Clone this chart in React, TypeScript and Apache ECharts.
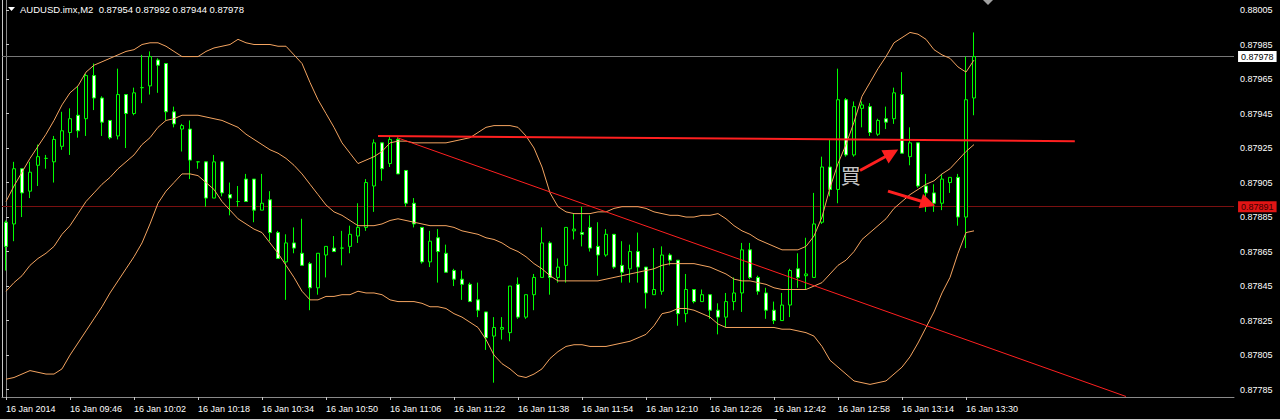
import React, { useEffect, useRef } from "react";
import * as echarts from "echarts";

// ---- chart meta ----
const SYMBOL = "AUDUSD.imx,M2";
const DAY_LABEL = "16 Jan";
const FIRST_LABEL = "16 Jan 2014";
const START_MINUTES = 9 * 60 + 30; // first bar 09:30
const BAR_MINUTES = 2;
const TOTAL_SLOTS = 154; // bars + empty shift area
const LABEL_EVERY = 8;

// ---- axis range and ticks ----
const Y_MIN = 0.877807;
const Y_MAX = 0.880108;
const priceTicks = [
  0.87785, 0.87805, 0.87825, 0.87845, 0.87865, 0.87885, 0.87905, 0.87925, 0.87945, 0.87965, 0.87985, 0.88005,
];

// ---- OHLC ----
const opens = [
  0.87882, 0.87881, 0.87913, 0.879, 0.87915, 0.87919, 0.87917, 0.87926, 0.87934, 0.87944,
  0.87942, 0.87967, 0.87954, 0.87941, 0.87932, 0.87956, 0.87945, 0.8796, 0.87961, 0.87976,
  0.87974, 0.87946, 0.87936, 0.87936, 0.87917, 0.87917, 0.87896, 0.87917, 0.87898, 0.87894,
  0.87907, 0.87907, 0.87889, 0.87895, 0.87876, 0.87859, 0.8787, 0.87864, 0.87858, 0.87844,
  0.87863, 0.87867, 0.87867, 0.87868, 0.87874, 0.87879, 0.87903, 0.87928, 0.87916, 0.8793,
  0.87912, 0.87893, 0.87879, 0.87859, 0.87873, 0.87864, 0.87854, 0.87849, 0.87846, 0.87837,
  0.8783, 0.87816, 0.8782, 0.87818, 0.87846, 0.87827, 0.8784, 0.8785, 0.8787, 0.8785,
  0.87857, 0.87877, 0.87876, 0.87879, 0.87868, 0.87863, 0.87875, 0.87857, 0.87855, 0.87865,
  0.87856, 0.8784, 0.87842, 0.87863, 0.8786, 0.87829, 0.87843, 0.87836, 0.8784, 0.87831,
  0.87827, 0.87836, 0.87841, 0.87866, 0.8785, 0.87841, 0.87831, 0.87825, 0.87834, 0.87855,
  0.87851, 0.8785, 0.87882, 0.87914, 0.87901, 0.87953, 0.87921, 0.87948, 0.87949, 0.87933,
  0.87942, 0.87942, 0.87956, 0.8792, 0.87928, 0.87903, 0.87899, 0.87893, 0.87905, 0.87908,
  0.87885, 0.87954,
];
const highs = [
  0.87883, 0.87917, 0.87913, 0.87917, 0.87927, 0.87921, 0.87932, 0.87946, 0.87948, 0.87961,
  0.87968, 0.87974, 0.87955, 0.87941, 0.87971, 0.87956, 0.8796, 0.87979, 0.87981, 0.87977,
  0.87974, 0.87949, 0.87939, 0.87941, 0.87917, 0.87917, 0.87921, 0.87917, 0.87905, 0.87903,
  0.8791, 0.87907, 0.8791, 0.879, 0.87877, 0.87875, 0.87879, 0.87884, 0.87859, 0.87864,
  0.87868, 0.87874, 0.87877, 0.8788, 0.87893, 0.87907, 0.8793, 0.87928, 0.87932, 0.87931,
  0.87912, 0.87896, 0.87879, 0.87877, 0.87878, 0.87869, 0.87855, 0.87854, 0.87847, 0.87847,
  0.8783, 0.87827, 0.87827, 0.87845, 0.8785, 0.8784, 0.87852, 0.87879, 0.87871, 0.87861,
  0.87879, 0.87887, 0.87891, 0.87886, 0.87882, 0.87878, 0.87875, 0.87871, 0.87869, 0.87876,
  0.87856, 0.87867, 0.87868, 0.87864, 0.8786, 0.87852, 0.87843, 0.87843, 0.8784, 0.87835,
  0.87841, 0.8785, 0.8787, 0.8787, 0.87851, 0.87844, 0.87836, 0.87841, 0.87855, 0.87864,
  0.87873, 0.87899, 0.8792, 0.8793, 0.87971, 0.87954, 0.87952, 0.87952, 0.87951, 0.87942,
  0.87949, 0.8796, 0.87969, 0.87937, 0.87928, 0.8791, 0.87904, 0.8791, 0.87908, 0.8791,
  0.87978, 0.87992,
];
const lows = [
  0.87854, 0.87871, 0.87885, 0.87896, 0.87903, 0.87913, 0.87905, 0.87924, 0.87921, 0.87931,
  0.87932, 0.87947, 0.87932, 0.8793, 0.8793, 0.87925, 0.87944, 0.87951, 0.87956, 0.87957,
  0.87941, 0.87937, 0.87923, 0.87907, 0.87913, 0.87891, 0.87896, 0.87897, 0.87886, 0.87891,
  0.87894, 0.87882, 0.87889, 0.87871, 0.87861, 0.87837, 0.87864, 0.87857, 0.87831, 0.8784,
  0.8785, 0.87865, 0.87857, 0.87864, 0.8787, 0.87877, 0.87888, 0.87906, 0.87914, 0.8791,
  0.87891, 0.87879, 0.87858, 0.87856, 0.87847, 0.87853, 0.87845, 0.87837, 0.87836, 0.87827,
  0.87808, 0.87789, 0.87814, 0.87813, 0.87826, 0.87826, 0.87831, 0.8785, 0.8784, 0.87847,
  0.87847, 0.87872, 0.87868, 0.87865, 0.87851, 0.87862, 0.87855, 0.87847, 0.87847, 0.87847,
  0.87832, 0.8784, 0.8784, 0.87857, 0.87822, 0.87824, 0.87835, 0.87836, 0.87826, 0.87817,
  0.87821, 0.87831, 0.8783, 0.87849, 0.8784, 0.87826, 0.87823, 0.87825, 0.87827, 0.87844,
  0.87843, 0.8785, 0.87881, 0.87897, 0.87893, 0.8792, 0.8792, 0.87937, 0.87932, 0.87932,
  0.87936, 0.87939, 0.87922, 0.87915, 0.87902, 0.87888, 0.87888, 0.87889, 0.87899, 0.8788,
  0.87867, 0.87944,
];
const closes = [
  0.87868, 0.87913, 0.87899, 0.87911, 0.8792, 0.87919, 0.8793, 0.87935, 0.87942, 0.87935,
  0.87967, 0.87954, 0.8794, 0.87931, 0.87956, 0.87945, 0.87957, 0.8796, 0.87978, 0.87973,
  0.87946, 0.87939, 0.87938, 0.87918, 0.87917, 0.87896, 0.87917, 0.87899, 0.87896, 0.87894,
  0.87894, 0.87889, 0.87893, 0.87876, 0.87861, 0.8787, 0.87867, 0.87857, 0.87844, 0.87864,
  0.87868, 0.87865, 0.87867, 0.87875, 0.87879, 0.87905, 0.87928, 0.87913, 0.8793, 0.8791,
  0.87893, 0.87881, 0.87859, 0.87871, 0.87865, 0.87853, 0.87849, 0.87846, 0.87836, 0.87831,
  0.87815, 0.87821, 0.87821, 0.87845, 0.87827, 0.8784, 0.8785, 0.8787, 0.8785, 0.87856,
  0.87879, 0.87878, 0.87875, 0.87867, 0.87863, 0.87875, 0.87856, 0.87853, 0.87865, 0.87856,
  0.87841, 0.87843, 0.87863, 0.8786, 0.87829, 0.87843, 0.87836, 0.8784, 0.87831, 0.87827,
  0.87836, 0.87841, 0.87866, 0.8785, 0.87842, 0.87831, 0.87825, 0.87834, 0.87854, 0.8785,
  0.87852, 0.87881, 0.87914, 0.87901, 0.87953, 0.87921, 0.87949, 0.8795, 0.87934, 0.87941,
  0.8794, 0.87957, 0.87922, 0.87928, 0.87903, 0.87899, 0.87893, 0.87907, 0.87908, 0.87885,
  0.87953, 0.87978,
];

// ---- Bollinger bands ----
const bandUpper = [
  0.87894, 0.87903, 0.87911, 0.87919, 0.87926, 0.87933, 0.87941, 0.8795, 0.87957, 0.87961,
  0.87969, 0.87973, 0.87975, 0.87977, 0.87979, 0.87981, 0.87982, 0.87985, 0.87986, 0.87986,
  0.87984, 0.87981, 0.87978, 0.87978, 0.87978, 0.87981, 0.87983, 0.87984, 0.87985, 0.87988,
  0.87986, 0.87985, 0.87985, 0.87985, 0.87984, 0.87984, 0.87979, 0.87974, 0.87963, 0.87953,
  0.87945, 0.87937, 0.87928, 0.87922, 0.87916, 0.87918, 0.8792, 0.87923, 0.87928, 0.87929,
  0.87929, 0.87928, 0.87928, 0.87928, 0.87928, 0.87928, 0.87929, 0.8793, 0.87931, 0.87934,
  0.87937, 0.87938, 0.87938, 0.87938, 0.87937, 0.87932, 0.87925, 0.87914, 0.87899, 0.87891,
  0.87888, 0.87887, 0.87887, 0.87887, 0.87888, 0.87888, 0.8789, 0.87891, 0.87891, 0.87891,
  0.8789, 0.87888, 0.87887, 0.87886, 0.87886, 0.87885, 0.87885, 0.87886, 0.87886, 0.87887,
  0.87884, 0.8788, 0.87877, 0.87875, 0.87872, 0.8787, 0.87868, 0.87866, 0.87866, 0.87866,
  0.87868, 0.87874, 0.87885, 0.87902, 0.87916, 0.87927, 0.8794, 0.87955, 0.87963, 0.87971,
  0.87978, 0.87986, 0.87989, 0.87992, 0.87991, 0.87988, 0.87982, 0.87979, 0.87977, 0.87972,
  0.87969, 0.87976,
];
const bandMiddle = [
  0.87842, 0.87847, 0.87851, 0.87857, 0.87861, 0.87864, 0.87868, 0.87875, 0.8788, 0.87887,
  0.87894, 0.87899, 0.87904, 0.87908, 0.87913, 0.87917, 0.87921, 0.87927, 0.87931, 0.87937,
  0.87941, 0.87942, 0.87944, 0.87944, 0.87944, 0.87943, 0.87942, 0.87941, 0.87939, 0.87937,
  0.87933, 0.8793, 0.87927, 0.87924, 0.87922, 0.87919, 0.87915, 0.8791, 0.87904, 0.87898,
  0.87892, 0.87888, 0.87886, 0.87883, 0.8788, 0.8788, 0.8788, 0.87881, 0.87883, 0.87884,
  0.87883, 0.87882, 0.87881, 0.8788, 0.8788, 0.8788, 0.87879, 0.87877, 0.87876, 0.87875,
  0.87873, 0.87872, 0.8787, 0.87867, 0.87865, 0.87862, 0.87858, 0.87855, 0.87851, 0.87848,
  0.87848, 0.87848, 0.87848, 0.87848, 0.87848, 0.87849, 0.8785, 0.87851, 0.87852, 0.87853,
  0.87854, 0.87855, 0.87857, 0.87858, 0.87858, 0.87858, 0.87858, 0.87857, 0.87856, 0.87854,
  0.87852, 0.87849, 0.87848, 0.87848, 0.87847, 0.87846, 0.87844, 0.87843, 0.87843, 0.87843,
  0.87843, 0.87845, 0.87847, 0.87852, 0.87857, 0.8786, 0.87865, 0.87872, 0.87876, 0.8788,
  0.87884, 0.8789, 0.87894, 0.87898, 0.87901, 0.87904, 0.87906, 0.8791, 0.87913, 0.87918,
  0.87923, 0.87927,
];
const bandLower = [
  0.87791, 0.87792, 0.87794, 0.87796, 0.87795, 0.87794, 0.87794, 0.87797, 0.87805, 0.87812,
  0.87819, 0.87826, 0.87833, 0.87841, 0.87848, 0.87855, 0.87862, 0.8787, 0.87881, 0.87893,
  0.879, 0.87905, 0.8791, 0.8791, 0.87909, 0.87905, 0.87901, 0.87894, 0.87889, 0.87884,
  0.87881, 0.87878, 0.87876, 0.8787, 0.87864, 0.87857, 0.8785, 0.87842, 0.87837, 0.87837,
  0.87839, 0.87839, 0.8784, 0.8784, 0.87842, 0.87841, 0.87841, 0.8784, 0.87837, 0.87836,
  0.87836, 0.87836, 0.87835, 0.87833, 0.87833, 0.87832, 0.87829, 0.87827, 0.87824, 0.87821,
  0.87814, 0.87805, 0.878, 0.87797, 0.87793, 0.87792, 0.87794, 0.87797, 0.87803, 0.87807,
  0.8781, 0.87811, 0.87811, 0.8781, 0.8781, 0.8781, 0.87811, 0.87812, 0.87813, 0.87815,
  0.87817, 0.87822, 0.87829, 0.8783, 0.87832, 0.87832, 0.87831, 0.87829, 0.87827, 0.87823,
  0.87821, 0.87821, 0.87821, 0.87821, 0.87821, 0.87821, 0.87821, 0.8782, 0.8782, 0.87819,
  0.87818, 0.87816, 0.8781, 0.87802, 0.87798, 0.87794, 0.8779, 0.87789, 0.87788, 0.87789,
  0.8779, 0.87794, 0.87798, 0.87804, 0.87812, 0.87821, 0.8783, 0.87841, 0.8785, 0.87864,
  0.87876, 0.87877,
];

// ---- horizontal price lines ----
const bidPrice = 0.87978;
const levelPrice = 0.87891;

// ---- drawn objects, in [bar index, price] ----
const trendFlat = [[46.5, 0.87932], [133.6, 0.87929]];
const trendDown = [[48.9, 0.87931], [140.0, 0.87781]];
const arrowUp = [[106.75, 0.87912], [110.7, 0.87922]];
const arrowDown = [[110.25, 0.879], [115.25, 0.87893]];
const buyMark = [105.6, 0.87909];
const buyText = "買";

const pad = (n: number) => (n < 10 ? "0" + n : "" + n);
const categories: string[] = [];
for (let i = 0; i < TOTAL_SLOTS; i++) {
  const m = START_MINUTES + i * BAR_MINUTES;
  categories.push(pad(Math.floor(m / 60)) + ":" + pad(m % 60));
}

const FONT = "'Liberation Sans', Arial, sans-serif";
const GREEN = "#00ff00";
const BAND = "#f4a460";
const RED = "#ff2020";

export default function App() {
  const ref = useRef<HTMLDivElement>(null);

  useEffect(() => {
    document.body.style.margin = "0";
    document.body.style.background = "#000";
    const chart = echarts.init(ref.current!, null, { renderer: "svg" });
    const n = opens.length;
    const candles = opens.map((o, i) => [o, closes[i], lows[i], highs[i]]);
    const showAt = (i: number) => i % LABEL_EVERY === 0 && i < n;
    const last = n - 1;
    const titleText =
      SYMBOL +
      "  " +
      [opens[last], highs[last], lows[last], closes[last]].map((v) => v.toFixed(5)).join(" ");
    const xLo = -0.5;
    const xHi = TOTAL_SLOTS - 0.5;

    const priceLine = (price: number, stroke: string) => ({
      coords: [
        [xLo, price],
        [xHi, price],
      ],
      lineStyle: { color: stroke, width: 1, opacity: 1 },
    });
    const priceTag = (price: number, bg: string, fg: string) => ({
      value: [xHi, price],
      itemStyle: { color: "#000", opacity: 1 },
      label: {
        show: true,
        position: "right",
        distance: 4,
        formatter: price.toFixed(5),
        backgroundColor: bg,
        color: fg,
        opacity: 1,
        fontSize: 9,
        fontFamily: FONT,
        padding: [1, 3, 1, 3],
      },
    });

    const option: any = {
      animation: false,
      backgroundColor: "#000",
      title: {
        text: titleText,
        left: 20,
        top: 4,
        padding: 0,
        textStyle: { color: "#fff", fontSize: 9.5, fontWeight: "normal", fontFamily: FONT },
      },
      grid: { left: 2, right: 46, top: 0, bottom: 23, show: false },
      xAxis: [
        {
          type: "category",
          data: categories,
          boundaryGap: true,
          axisLine: { show: true, lineStyle: { color: "#8a8a8a", width: 1 } },
          axisTick: {
            show: true,
            alignWithLabel: true,
            interval: (i: number) => showAt(i),
            length: 3,
            lineStyle: { color: "#c8c8c8" },
          },
          axisLabel: {
            interval: (i: number) => showAt(i),
            formatter: (v: string, i: number) => (i === 0 ? FIRST_LABEL : DAY_LABEL + " " + v),
            align: "left",
            color: "#fff",
            fontSize: 9,
            fontFamily: FONT,
            margin: 7,
          },
          splitLine: { show: false },
        },
        { type: "value", min: xLo, max: xHi, show: false },
      ],
      yAxis: {
        type: "value",
        position: "right",
        min: Y_MIN,
        max: Y_MAX,
        scale: true,
        splitLine: { show: false },
        axisLine: { show: true, lineStyle: { color: "#8a8a8a" } },
        axisTick: { show: true, customValues: priceTicks, length: 3, lineStyle: { color: "#c8c8c8" } },
        axisLabel: {
          customValues: priceTicks,
          formatter: (v: number) => v.toFixed(5),
          color: "#fff",
          fontSize: 9,
          fontFamily: FONT,
          margin: 6,
        },
      },
      graphic: [
        { type: "line", shape: { x1: 2.5, y1: 0, x2: 2.5, y2: 397 }, style: { stroke: "#c8c8c8", lineWidth: 1 } },
        { type: "polygon", shape: { points: [[8, 7], [15, 7], [11.5, 11]] }, style: { fill: "#fff" } },
        { type: "polygon", shape: { points: [[983, 0], [993, 0], [988, 5]] }, style: { fill: "#a0a0a0" } },
        { type: "line", shape: { x1: 0, y1: 419.5, x2: 777, y2: 419.5 }, style: { stroke: "#d0d0d0", lineWidth: 1 } },
        { type: "line", shape: { x1: 920, y1: 419.5, x2: 1280, y2: 419.5 }, style: { stroke: "#d0d0d0", lineWidth: 1 } },
      ],
      series: [
        {
          type: "lines",
          coordinateSystem: "cartesian2d",
          xAxisIndex: 1,
          yAxisIndex: 0,
          symbol: "none",
          z: 1,
          data: [priceLine(bidPrice, "#777777"), priceLine(levelPrice, "#7a1010")],
        },
        {
          type: "scatter",
          xAxisIndex: 1,
          yAxisIndex: 0,
          symbolSize: 0.1,
          clip: false,
          z: 7,
          emphasis: { disabled: true },
          data: [priceTag(bidPrice, "#ffffff", "#000000"), priceTag(levelPrice, "#e01515", "#3a0000")],
        },
        {
          type: "candlestick",
          data: candles,
          barWidth: 4,
          z: 2,
          itemStyle: {
            color: "#000",
            color0: "#fff",
            borderColor: GREEN,
            borderColor0: GREEN,
            borderColorDoji: GREEN,
            borderWidth: 1,
          },
        },
        {
          type: "line",
          data: bandUpper,
          showSymbol: false,
          symbol: "none",
          lineStyle: { color: BAND, width: 1 },
          z: 3,
        },
        {
          type: "line",
          data: bandMiddle,
          showSymbol: false,
          symbol: "none",
          lineStyle: { color: BAND, width: 1 },
          z: 3,
        },
        {
          type: "line",
          data: bandLower,
          showSymbol: false,
          symbol: "none",
          lineStyle: { color: BAND, width: 1 },
          z: 3,
        },
        {
          type: "lines",
          coordinateSystem: "cartesian2d",
          xAxisIndex: 1,
          yAxisIndex: 0,
          symbol: "none",
          z: 4,
          data: [
            { coords: trendFlat, lineStyle: { color: RED, width: 2, opacity: 1 } },
            { coords: trendDown, lineStyle: { color: RED, width: 1, opacity: 1 } },
          ],
        },
        {
          type: "lines",
          coordinateSystem: "cartesian2d",
          xAxisIndex: 1,
          yAxisIndex: 0,
          symbol: ["none", "triangle"],
          symbolSize: 15,
          z: 5,
          data: [
            { coords: arrowUp, lineStyle: { color: RED, width: 3, opacity: 1 } },
            { coords: arrowDown, lineStyle: { color: RED, width: 3, opacity: 1 } },
          ],
        },
        {
          type: "scatter",
          xAxisIndex: 1,
          yAxisIndex: 0,
          data: [buyMark],
          symbolSize: 0.1,
          itemStyle: { color: "transparent" },
          z: 6,
          label: {
            show: true,
            position: "inside",
            formatter: buyText,
            color: "#fff",
            fontSize: 20,
            fontFamily: "'Noto Sans CJK JP', sans-serif",
          },
        },
      ],
    };
    chart.setOption(option);
    return () => chart.dispose();
  }, []);

  return <div ref={ref} style={{ width: 1280, height: 420 }} />;
}
